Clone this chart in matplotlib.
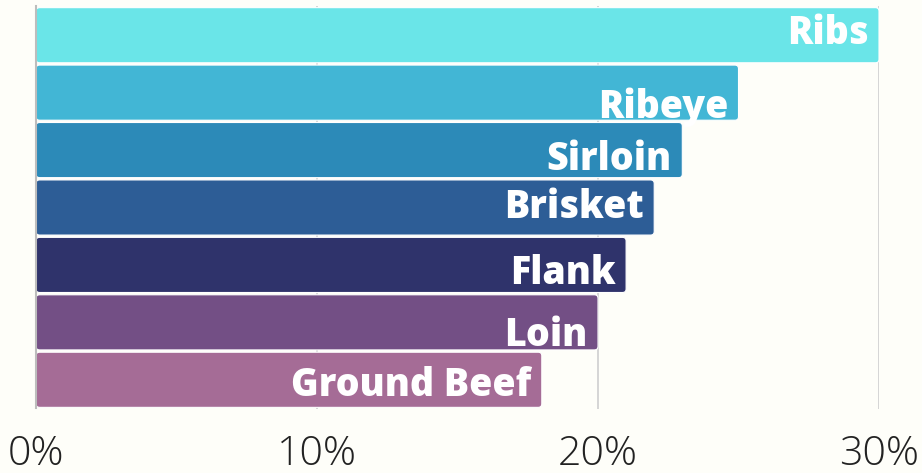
import matplotlib
matplotlib.use("Agg")
import matplotlib.pyplot as plt
from matplotlib.patches import FancyBboxPatch
from matplotlib import font_manager

categories = ["Ribs", "Ribeye", "Sirloin", "Brisket", "Flank", "Loin", "Ground Beef"]
values = [30, 25, 23, 22, 21, 20, 18]
colors = ["#6AE5E8", "#42B6D5", "#2C8AB8", "#2D5D96", "#2F336B", "#734F85", "#A56C96"]
tick_values = [0, 10, 20, 30]
tick_labels = ["0%", "10%", "20%", "30%"]
# vertical label offsets (fraction of bar slot) to mimic reference
label_offsets = [0.16, 0.44, 0.35, 0.19, 0.33, 0.42, 0.28]

bg = "#FEFEF9"
fig = plt.figure(figsize=(9.22, 4.73), dpi=100, facecolor=bg)
ax = fig.add_axes([36/922, (473-408.5)/473, (879-36)/922, (408.5-6.5)/473])
ax.set_facecolor(bg)

ypos = list(range(len(categories)))
bars = ax.barh(ypos, values, height=0.96, color=colors)
for b in bars:
    b.set_visible(False)
    p = FancyBboxPatch((b.get_x(), b.get_y()), b.get_width(), b.get_height(),
                       boxstyle="round,pad=0,rounding_size=0.13",
                       mutation_aspect=0.48,
                       facecolor=b.get_facecolor(), edgecolor="white", lw=0.8, zorder=2)
    ax.add_patch(p)

ax.set_xlim(0, 30)
ax.set_ylim(len(categories) - 0.5, -0.5)

for v in tick_values[1:]:
    ax.axvline(v, color="#cfcfcf", lw=1.2, zorder=1)

names = {f.name for f in font_manager.fontManager.ttflist}
label_font = "Open Sans" if "Open Sans" in names else "DejaVu Sans"
for y, v, name, off in zip(ypos, values, categories, label_offsets):
    ax.text(v - 0.37, y + off, name, ha="right", va="baseline", color="white",
            fontsize=27, fontweight="heavy", family=label_font, zorder=4)

ax.set_xticks(tick_values)
ax.set_xticklabels(tick_labels, fontsize=29.5, fontweight="light", family=["Open Sans", "Lato", "DejaVu Sans"], color="#222222")
ax.tick_params(axis="x", length=0, pad=18)
ax.set_yticks([])
for s in ["top", "right", "bottom"]:
    ax.spines[s].set_visible(False)
ax.spines["left"].set_color("#bdbdbd")
ax.spines["left"].set_linewidth(1.5)
ax.spines["left"].set_zorder(5)

fig.savefig("out.png", dpi=100, facecolor=bg)
